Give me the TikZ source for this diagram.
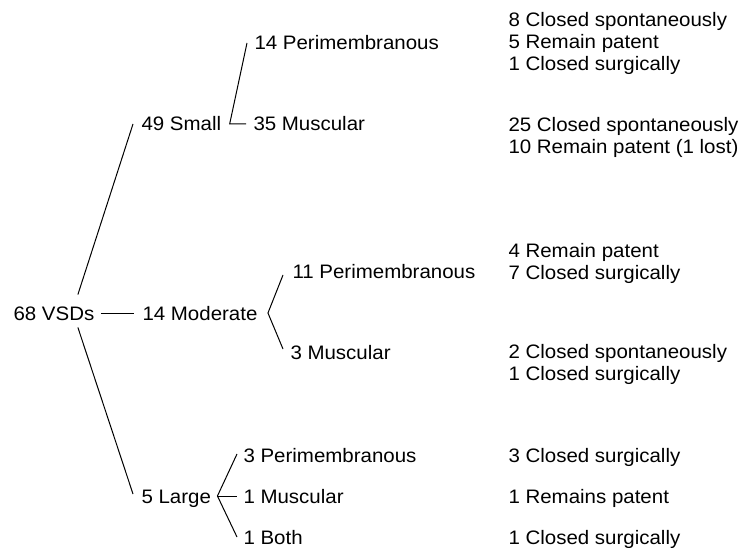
\documentclass[tikz,border=0pt]{standalone}
\usepackage{fontspec}
\setmainfont[FakeStretch=1.05]{Liberation Sans}
\usetikzlibrary{positioning,calc}

\begin{document}
\begin{tikzpicture}[x=1pt,y=-1pt,line width=1pt,
  every node/.style={font=\fontsize{19.5}{22}\selectfont,inner sep=0pt,anchor=base west},
  grp/.style={text height=14pt,text depth=0pt},
  outc/.style={align=left}]
\useasboundingbox (0,0) rectangle (744,548);
% sizes
\node[grp] (vsd) at (13,320) {68 VSDs};
\node[grp] (small) at (141,131) {49 Small};
\node[grp] (moderate) at (142,320) {14 Moderate};
\node[grp] (large) at (141,503) {5 Large};
% types
\node[grp] (smallpm) at (254,50) {14 Perimembranous};
\node[grp] (smallmu) at (253,131) {35 Muscular};
\node[grp] (modpm) at (292,278) {11 Perimembranous};
\node[grp] (modmu) at (290,359) {3 Muscular};
\node[grp] (largepm) at (243,462) {3 Perimembranous};
\node[grp] (largemu) at (243,503) {1 Muscular};
\node[grp] (largebo) at (243,544) {1 Both};
% outcomes (placed by the baseline of their last line)
\node[outc] (outsp) at (508,71) {8 Closed spontaneously\\5 Remain patent\\1 Closed surgically};
\node[outc] (outsm) at (508,154) {25 Closed spontaneously\\10 Remain patent (1 lost)};
\node[outc] (outmp) at (508,279) {4 Remain patent\\7 Closed surgically};
\node[outc] (outmm) at (508,380) {2 Closed spontaneously\\1 Closed surgically};
\node[outc] (outlp) at (508,462) {3 Closed surgically};
\node[outc] (outlm) at (508,503) {1 Remains patent};
\node[outc] (outlb) at (508,544) {1 Closed surgically};
% branches
\draw ([xshift=24pt,yshift=11pt]vsd.north) -- ([xshift=-8pt]small.west);
\draw ([xshift=6pt]vsd.east) -- ([xshift=-8pt]moderate.west);
\draw ([xshift=24pt,yshift=-7pt]vsd.south) -- ([xshift=-8pt,yshift=2pt]large.west);
\coordinate (sfork) at ([xshift=8pt]small.east);
\draw ([xshift=-7pt]smallpm.west) -- (sfork) -- ([xshift=-7pt]smallmu.west);
\coordinate (mfork) at ([xshift=10pt]moderate.east);
\draw ([xshift=-9pt,yshift=-4pt]modpm.west) -- (mfork) -- ([xshift=-7pt,yshift=3pt]modmu.west);
\coordinate (lfork) at ([xshift=6pt]large.east);
\draw ([xshift=-6pt,yshift=1pt]largepm.west) -- (lfork) -- ([xshift=-6pt]largebo.west);
\draw (lfork) -- ([xshift=-6pt]largemu.west);
\end{tikzpicture}
\end{document}
